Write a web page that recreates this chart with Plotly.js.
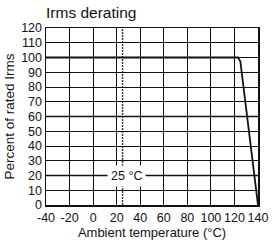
<!DOCTYPE html>
<html>
<head>
<meta charset="utf-8">
<script src="https://cdn.plot.ly/plotly-3.0.1.min.js"></script>
<style>html,body{margin:0;padding:0;background:#fff;}#chart{width:272px;height:247px;}</style>
</head>
<body>
<div id="chart"></div>
<script>
// Data
const temperature = [-40, 123, 125, 140];
const percentIrms = [100, 100, 97.5, 0];
const refTemperature = 25;      // reference ambient temperature (°C)
const refLabel = "25 °C";
const refLabelLevel = 20;       // level at which the label sits
const xTicks = [-40, -20, 0, 20, 40, 60, 80, 100, 120, 140];
const yTicks = [0, 10, 20, 30, 40, 50, 60, 70, 80, 90, 100, 110, 120];
const boldLevels = [60, 20];

const FONT = "Liberation Sans, Arial, sans-serif";

const shapes = boldLevels.map(v => ({
  type: "line", xref: "paper", yref: "y", x0: 0, x1: 1, y0: v, y1: v,
  line: {color: "#111", width: 1.6}, layer: "below"
}));
shapes.push({
  type: "line", xref: "x", yref: "paper", x0: refTemperature, x1: refTemperature, y0: 0, y1: 1,
  line: {color: "#333", width: 1.4, dash: "2px,1px"}, layer: "below"
});

const trace = {
  x: temperature, y: percentIrms, mode: "lines", type: "scatter",
  line: {color: "#111", width: 1.8, shape: "linear"}, hoverinfo: "skip"
};

const layout = {
  width: 272, height: 247,
  margin: {l: 46, r: 14, t: 28, b: 42},
  paper_bgcolor: "#fff", plot_bgcolor: "#fff",
  showlegend: false,
  font: {family: FONT, color: "#111", size: 12},
  title: {text: "Irms derating", font: {family: FONT, size: 15.5, color: "#111"},
          x: 0, xanchor: "left", xref: "paper", y: 0.95, yanchor: "middle"},
  xaxis: {
    range: [-40, 140], tickvals: xTicks, ticktext: xTicks.map(String),
    showgrid: true, gridcolor: "#111", gridwidth: 1,
    showline: true, linecolor: "#111", linewidth: 1.5, mirror: true,
    zeroline: false, ticks: "", ticklen: 0,
    tickfont: {family: FONT, size: 12.5, color: "#111"},
    title: {text: "Ambient temperature (°C)", font: {family: FONT, size: 13, color: "#111"}, standoff: 4}
  },
  yaxis: {
    range: [0, 120], tickvals: yTicks, ticktext: yTicks.map(String),
    showgrid: true, gridcolor: "#111", gridwidth: 1,
    showline: true, linecolor: "#111", linewidth: 1.5, mirror: true,
    zeroline: false, ticks: "", ticklen: 0,
    tickfont: {family: FONT, size: 12.5, color: "#111"},
    title: {text: "Percent of rated Irms", font: {family: FONT, size: 13.5, color: "#111"}, standoff: 3}
  },
  shapes: shapes,
  annotations: [{
    x: refTemperature + 3, y: refLabelLevel, xref: "x", yref: "y",
    text: refLabel, showarrow: false, bgcolor: "#fff", borderpad: 3,
    font: {family: FONT, size: 12.5, color: "#111"}
  }]
};

Plotly.newPlot("chart", [trace], layout, {displayModeBar: false, staticPlot: true});
</script>
</body>
</html>
